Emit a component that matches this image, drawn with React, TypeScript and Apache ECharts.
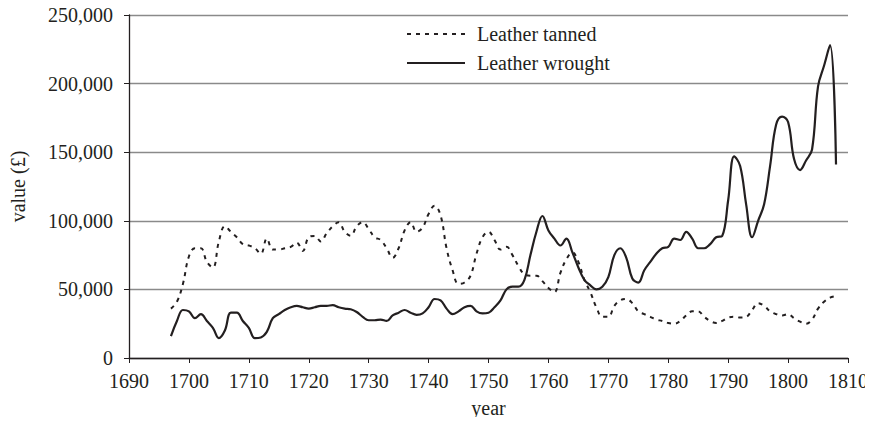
import React, { useEffect, useRef } from "react";
import * as echarts from "echarts";

const startYear = 1697;
const years: number[] = Array.from({ length: 112 }, (_, i) => startYear + i);

const tanned: number[] = [
  36000, 41000, 54000, 74000, 80000, 80000, 70000, 66000, 85000, 96000,
  92000, 88000, 83000, 82000, 80000, 76000, 87000, 79000, 79000, 80000,
  81000, 84000, 78000, 88000, 89000, 85000, 91000, 96000, 99000, 92000,
  89000, 96000, 99000, 94000, 88000, 86000, 80000, 73000, 80000, 93000,
  99000, 92000, 95000, 105000, 111000, 104000, 80000, 64000, 54000, 55000,
  60000, 76000, 88000, 92000, 86000, 79000, 81000, 75000, 67000, 61000,
  60000, 60000, 56000, 51000, 48000, 62000, 72000, 77000, 70000, 57000,
  48000, 37000, 30000, 30000, 38000, 42000, 43000, 40000, 34000, 32000,
  30000, 28000, 27000, 25500, 25000, 27000, 31000, 34000, 34000, 30000,
  27000, 25500, 27000, 29500, 30000, 29500, 30000, 35000, 40000, 38000,
  34000, 32000, 31000, 32000, 29000, 26500, 25000, 28000, 36000, 41000,
  44000, 45000,
];

const wrought: number[] = [
  16000, 27000, 35000, 34000, 29000, 32000, 27000, 22000, 14500, 20000,
  33000, 33000, 27000, 22000, 14500, 15000, 19000, 29000, 32000, 35000,
  37000, 38000, 37000, 36000, 37000, 38000, 38000, 38500, 37000, 36000,
  35500, 33500, 30000, 27500, 27500, 28000, 27000, 31000, 33000, 35000,
  33000, 31500, 32500, 37000, 43000, 42000, 36000, 32000, 34000, 37000,
  38000, 34000, 32500, 33000, 37000, 42000, 50000, 52000, 52000, 57000,
  75000, 92000, 103500, 93000, 87000, 82000, 87000, 77000, 66000, 57000,
  53000, 50000, 52000, 59000, 75000, 80000, 73000, 58000, 55000, 64000,
  70000, 76000, 80000, 81000, 87000, 86000, 92000, 87000, 80000, 80000,
  83000, 88000, 89000, 115000, 147000, 140000, 112000, 88000, 100000, 112000,
  140000, 170000, 176000, 172000, 145000, 137000, 144000, 152000, 198000, 213000,
  228000, 141000,
];

const seriesNames = ["Leather tanned", "Leather wrought"];
const xName = "year";
const yName = "value (£)";

const FONT = "'Liberation Serif', 'Times New Roman', serif";
const TXT = "#231f20";

export default function App() {
  const ref = useRef<HTMLDivElement>(null);
  useEffect(() => {
    if (!ref.current) return;
    const chart = echarts.init(ref.current, null, { renderer: "svg" });
    chart.setOption({
      animation: false,
      backgroundColor: "#fff",
      textStyle: { fontFamily: FONT, color: TXT },
      grid: { left: 129, right: 25, top: 15, bottom: 67, containLabel: false },
      legend: {
        orient: "vertical",
        left: 401,
        top: 19,
        itemWidth: 58,
        itemHeight: 14,
        itemGap: 9,
        data: seriesNames,
        itemStyle: { opacity: 0 },
        textStyle: { fontFamily: FONT, fontSize: 20, color: TXT, padding: [0, 0, 0, 7] },
      },
      xAxis: {
        type: "value",
        min: 1690,
        max: 1810,
        interval: 10,
        name: xName,
        nameLocation: "middle",
        nameGap: 40,
        nameTextStyle: { fontFamily: FONT, fontSize: 20, color: TXT },
        axisLine: { lineStyle: { color: "#231f20", width: 1.3 } },
        axisTick: { show: true, length: 5, lineStyle: { color: "#231f20" } },
        axisLabel: {
          fontFamily: FONT,
          fontSize: 20,
          color: TXT,
          margin: 13,
          formatter: (v: number) => String(v),
        },
        splitLine: { show: false },
      },
      yAxis: {
        type: "value",
        min: 0,
        max: 250000,
        interval: 50000,
        name: yName,
        nameLocation: "middle",
        nameGap: 101,
        nameRotate: 90,
        nameTextStyle: { fontFamily: FONT, fontSize: 20, color: TXT },
        axisLine: { show: true, lineStyle: { color: "#231f20", width: 1.3 } },
        axisTick: { show: true, length: 5, lineStyle: { color: "#231f20" } },
        axisLabel: {
          fontFamily: FONT,
          fontSize: 20,
          color: TXT,
          margin: 16,
          formatter: (v: number) => v.toLocaleString("en-US"),
        },
        splitLine: { show: true, lineStyle: { color: "#8a8a8a", width: 1.3 } },
      },
      series: [
        {
          name: seriesNames[0],
          type: "line",
          data: years.map((y, i) => [y, tanned[i]]),
          smooth: 0.4,
          symbol: "none",
          showSymbol: false,
          lineStyle: { color: "#231f20", width: 2, type: [4, 5] },
          itemStyle: { color: "#231f20" },
        },
        {
          name: seriesNames[1],
          type: "line",
          data: years.map((y, i) => [y, wrought[i]]),
          smooth: 0.4,
          symbol: "none",
          showSymbol: false,
          lineStyle: { color: "#231f20", width: 2.2, type: "solid" },
          itemStyle: { color: "#231f20" },
        },
      ],
    });
    return () => chart.dispose();
  }, []);
  return <div ref={ref} style={{ width: 873, height: 425, margin: -8 }} />;
}
